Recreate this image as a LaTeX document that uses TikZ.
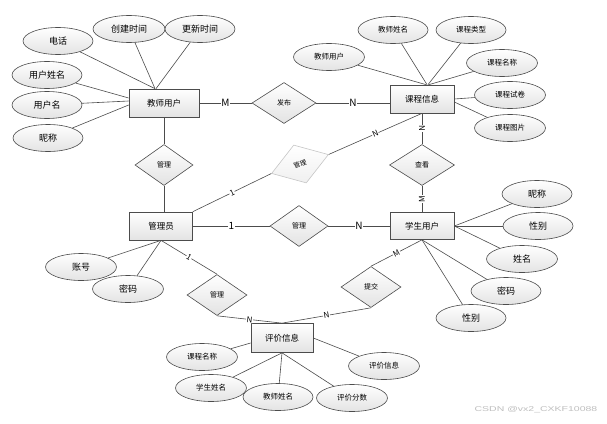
\documentclass[tikz,border=0pt]{standalone}
\usepackage{fontspec}
\setmainfont{Noto Sans CJK SC}
\newfontfamily\wmfont{Liberation Sans}
\usetikzlibrary{shapes.geometric}
\tikzset{
  entity/.style={draw=black!70, line width=0.7pt, top color=white, bottom color=gray!22,
    minimum width=64pt, minimum height=28pt, inner sep=0pt, font=\fontsize{8.5}{10}\selectfont},
  attr/.style={ellipse, draw=black!70, line width=0.6pt, top color=white, bottom color=gray!22,
    minimum width=70pt, minimum height=27pt, inner sep=0pt, font=\fontsize{9}{10}\selectfont},
  attrsm/.style={attr, font=\fontsize{7.5}{9}\selectfont},
  rel/.style={diamond, draw=black!70, line width=0.6pt, top color=white, bottom color=gray!22,
    minimum width=60pt, minimum height=41pt, inner sep=0pt, font=\fontsize{7}{8}\selectfont},
  conn/.style={draw=black!70, line width=0.6pt},
  card/.style={fill=white, inner sep=0.5pt, font=\fontsize{10}{10}\selectfont},
  cardsm/.style={card, sloped, font=\fontsize{8}{8}\selectfont},
}
\begin{document}
\begin{tikzpicture}[x=1pt,y=-1pt]
    \fill[white] (0,0) rectangle (607,423);
    \useasboundingbox (0,0) rectangle (607,423);
    % entities
    \node[entity, minimum width=70pt] (tu) at (164,103) {教师用户};
    \node[entity] (kc) at (422,99) {课程信息};
    \node[entity, minimum height=27pt] (xs) at (422,226) {学生用户};
    \node[entity, minimum width=63pt] (gly) at (161,226) {管理员};
    \node[entity, minimum width=62pt, minimum height=29pt] (pj) at (282,338) {评价信息};
    % relations
    \node[rel, minimum width=64pt] (fb) at (284,103) {发布};
    \node[rel, minimum width=65pt] (ck) at (422,165) {查看};
    \node[rel, minimum width=58pt] (gl1) at (164,165) {管理};
    \node[rel, minimum width=58pt] (gl3) at (299,226) {管理};
    \node[rel] (gl4) at (217,295) {管理};
    \node[rel] (tj) at (371,287) {提交};
    \node[rel, draw=gray!45, bottom color=gray!12, minimum height=40pt, rotate=18.4,
      font=\fontsize{6.5}{8}\selectfont] (gl2) at (300,164) {管理};
    % attributes
    \node[attr] (dh) at (58,41) {电话};
    \node[attr, minimum width=72pt] (cj) at (129,29) {创建时间};
    \node[attr] (gx) at (200,29) {更新时间};
    \node[attr] (xm) at (47,75) {用户姓名};
    \node[attr] (yh) at (47,105) {用户名};
    \node[attr] (nc1) at (48,138) {昵称};
    \node[attrsm, minimum width=71pt] (jy) at (329,57) {教师用户};
    \node[attrsm] (jx) at (393,30) {教师姓名};
    \node[attrsm] (lx) at (471,30) {课程类型};
    \node[attrsm, minimum width=71pt] (mc) at (502,63) {课程名称};
    \node[attrsm, minimum width=71pt] (sj) at (510,95) {课程试卷};
    \node[attrsm, minimum width=71pt] (tp) at (510,128) {课程图片};
    \node[attr] (nc2) at (537,194) {昵称};
    \node[attr] (xb1) at (538,226) {性别};
    \node[attr, minimum width=71pt] (xm2) at (522,259) {姓名};
    \node[attr] (mm2) at (506,291) {密码};
    \node[attr] (xb2) at (471,318) {性别};
    \node[attr, minimum width=71pt] (zh) at (81,267) {账号};
    \node[attr, minimum width=71pt] (mm1) at (128,289) {密码};
    \node[attrsm, minimum width=71pt] (mc2) at (202,357) {课程名称};
    \node[attrsm, minimum width=71pt] (xx) at (211,388) {学生姓名};
    \node[attrsm] (jx2) at (278,397) {教师姓名};
    \node[attrsm, minimum width=71pt] (fs) at (352,398) {评价分数};
    \node[attrsm, minimum width=71pt] (px) at (384,366) {评价信息};
    % attribute lines
    \draw[conn] (dh) -- ([xshift=-9pt]tu.north);
    \draw[conn] (cj) -- ([xshift=-9pt]tu.north);
    \draw[conn] (gx) -- ([xshift=-8pt]tu.north);
    \draw[conn] (xm) -- ([yshift=5pt]tu.west);
    \draw[conn] (yh) -- ([yshift=2pt]tu.west);
    \draw[conn] (nc1) -- ([yshift=-2pt]tu.west);
    \draw[conn] (jy) -- ([xshift=4pt]kc.north);
    \draw[conn] (jx) -- ([xshift=5pt]kc.north);
    \draw[conn] (lx) -- ([xshift=6pt]kc.north);
    \draw[conn] (mc) -- ([xshift=7pt]kc.north);
    \draw[conn] (sj) -- (kc.east);
    \draw[conn] (tp) -- ([yshift=-3pt]kc.east);
    \draw[conn] (nc2) -- (xs.east);
    \draw[conn] (xb1) -- (xs.east);
    \draw[conn] (xm2) -- (xs.east);
    \draw[conn] (mm2) -- (xs.south);
    \draw[conn] (xb2) -- (xs.south);
    \draw[conn] (zh) -- (gly.south);
    \draw[conn] (mm1) -- (gly.south);
    \draw[conn] (mc2) -- ([yshift=-5pt]pj.west);
    \draw[conn] (px) -- (pj.east);
    \draw[conn] (xx) -- (pj.south);
    \draw[conn] (jx2) -- (pj.south);
    \draw[conn] (fs) -- (pj.south);
    % relation lines
    \draw[conn] (tu.east) -- node[card] {M} (fb.west);
    \draw[conn] (fb.east) -- node[card] {N} (fb.east -| kc.west);
    \draw[conn] (kc.south) -- node[cardsm] {N} (ck.north);
    \draw[conn] (xs.north) -- node[cardsm] {M} (ck.south);
    \draw[conn] (tu.south) -- (gl1.north);
    \draw[conn] (gl1.south) -- (gl1.south |- gly.north);
    \draw[conn] (gly.north east) -- node[cardsm] {1} (gl2.west);
    \draw[conn] (gl2.east) -- node[cardsm] {N} (kc.south);
    \draw[conn] (gly.east) -- node[card] {1} (gl3.west);
    \draw[conn] (gl3.east) -- node[card] {N} (xs.west);
    \draw[conn] (gly.south) -- node[cardsm] {1} (gl4.north);
    \draw[conn] (gl4.south) -- node[cardsm] {N} (pj.north);
    \draw[conn] (xs.south) -- node[cardsm] {M} (tj.north);
    \draw[conn] (tj.south) -- node[cardsm] {N} (pj.north);
    \node[text=gray!50, font=\wmfont\fontsize{7}{8}\selectfont] (wm) at (536,410) {\scalebox{1.5}[1]{CSDN @vx2\_CXKF10088}};
\end{tikzpicture}
\end{document}
